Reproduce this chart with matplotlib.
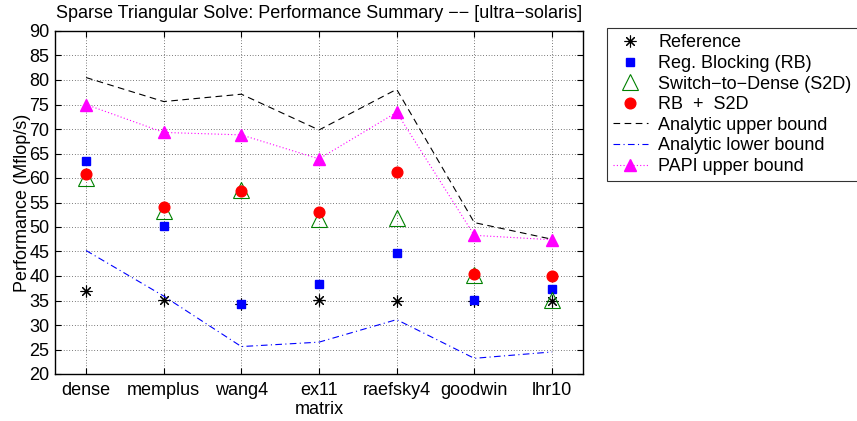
import matplotlib
matplotlib.use("Agg")
import matplotlib.pyplot as plt

plt.rcParams['font.family'] = ['Liberation Sans', 'DejaVu Sans']
plt.rcParams['font.size'] = 13

# matrices (x axis)
matrices = ['dense', 'memplus', 'wang4', 'ex11', 'raefsky4', 'goodwin', 'lhr10']

# performance, Mflop/s
reference = [37.0, 35.2, 34.3, 35.2, 34.8, 35.0, 34.8]
reg_blocking = [63.5, 50.3, 34.2, 38.3, 44.7, 35.1, 37.3]
switch_dense = [60.0, 53.3, 57.6, 51.6, 51.9, 40.3, 35.1]
rb_s2d = [60.8, 54.1, 57.3, 53.0, 61.2, 40.4, 40.0]
upper_bound = [80.5, 75.6, 77.1, 69.8, 78.1, 50.9, 47.5]
lower_bound = [45.2, 35.9, 25.6, 26.5, 31.1, 23.2, 24.5]
papi_bound = [75.0, 69.3, 68.8, 63.9, 73.4, 48.3, 47.4]

x = list(range(1, len(matrices) + 1))

fig = plt.figure(figsize=(8.57, 4.21), dpi=100)
ax = fig.add_axes([55/857, 1 - 374/421, (583-55)/857, (374-31)/421])

ax.plot(x, reference, linestyle='none', marker=(8, 2, 0), ms=8.5, mec='k', mew=0.8,
        label='Reference')
ax.plot(x, reg_blocking, linestyle='none', marker='s', ms=6.3, color=(0, 0, 1),
        label='Reg. Blocking (RB)')
ax.plot(x, switch_dense, linestyle='none', marker='^', ms=11.5, mfc='none',
        mec=(0, 0.5, 0), mew=0.8, label='Switch\u2212to\u2212Dense (S2D)')
ax.plot(x, rb_s2d, linestyle='none', marker='o', ms=7.7, color=(1, 0, 0),
        label='RB  +  S2D')
ax.plot(x, upper_bound, linestyle=(0, (6, 4)), color='k', lw=0.8,
        label='Analytic upper bound')
ax.plot(x, lower_bound, linestyle=(0, (6, 3, 1, 3)), color=(0, 0, 1), lw=0.8,
        label='Analytic lower bound')
ax.plot(x, papi_bound, linestyle=(0, (1, 2)), color=(1, 0, 1), lw=0.8,
        marker='^', ms=9, label='PAPI upper bound')

ax.set_xlim(0.6, 7.4)
ax.set_ylim(20, 90)
ax.set_xticks(x)
ax.set_xticklabels(matrices)
ax.set_yticks(range(20, 91, 5))
ax.tick_params(direction='in', top=True, right=True, length=4, width=0.8, pad=4)
ax.tick_params(axis='x', pad=6)
ax.grid(True, color='k', linestyle=(0, (1, 3)), linewidth=0.5)
for s in ax.spines.values():
    s.set_linewidth(1.0)

ax.set_xlabel('matrix', labelpad=1)
ax.set_ylabel('Performance (Mflop/s)', labelpad=-1)
ax.set_title('Sparse Triangular Solve: Performance Summary \u2212\u2212 [ultra\u2212solaris]',
             fontsize=13, pad=9)

leg = fig.legend(loc='upper left', bbox_to_anchor=(607/857, 1 - 28/421),
                 borderaxespad=0, frameon=True, fancybox=False, edgecolor='k',
                 labelspacing=0.2, handlelength=1.9, handletextpad=0.6,
                 borderpad=0.35)
leg.get_frame().set_linewidth(0.8)

fig.savefig('out.png', dpi=100)
